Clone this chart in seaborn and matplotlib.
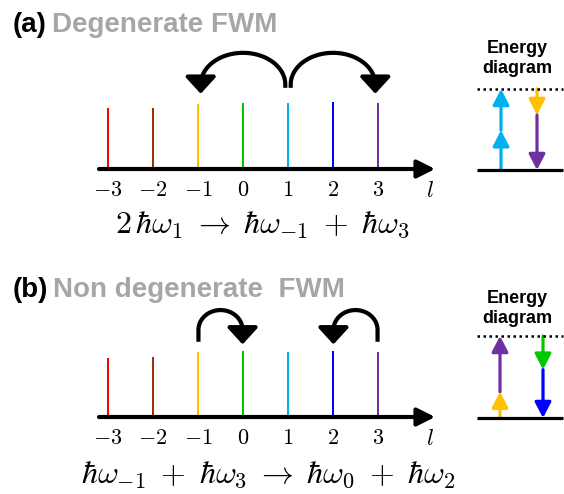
import numpy as np
import matplotlib
matplotlib.use("Agg")
import matplotlib.pyplot as plt
from matplotlib.patches import FancyArrowPatch
import seaborn as sns

# ---------------- data ----------------
modes = [-3, -2, -1, 0, 1, 2, 3]
mode_colors = ["#FF0000", "#993300", "#FFC000", "#00C800", "#00B0F0", "#0000FF", "#7030A0"]
heights_a = [0.92, 0.92, 0.98, 1.0, 1.0, 1.01, 1.0]
heights_b = [0.89, 0.91, 0.98, 1.0, 0.98, 1.0, 0.98]
tick_labels = ["$-3$", "$-2$", "$-1$", "$0$", "$1$", "$2$", "$3$"]
axis_label = "$l$"

panel_tags = ["(a)", "(b)"]
panel_titles = ["Degenerate FWM", "Non degenerate  FWM"]
equations = [r"$2\,\hbar\omega_1 \;\rightarrow\; \hbar\omega_{-1} \;+\; \hbar\omega_3$",
             r"$\hbar\omega_{-1} \;+\; \hbar\omega_3 \;\rightarrow\; \hbar\omega_0 \;+\; \hbar\omega_2$"]

# photon hops (from mode, to mode)
hops_a = [(1, -1), (1, 3)]
hops_b = [(-1, 0), (3, 2)]

# energy diagrams: (mode, start level, end level), virtual level = 1
energy_up_a = [(1, 0.0, 0.49), (1, 0.49, 1.0)]
energy_down_a = [(-1, 1.0, 0.68), (3, 0.68, 0.0)]
energy_up_b = [(-1, 0.0, 0.32), (3, 0.32, 1.0)]
energy_down_b = [(0, 1.0, 0.59), (2, 0.59, 0.0)]
energy_title = "Energy\ndiagram"

# ---------------- style ----------------
sns.set_theme(style="white")
plt.rcParams["font.family"] = ["Liberation Sans", "DejaVu Sans"]
plt.rcParams["mathtext.fontset"] = "cm"

W, H = 564, 494
fig = plt.figure(figsize=(W / 100, H / 100), dpi=100)
color_of = dict(zip(modes, mode_colors))


def make_axes(left, right, top, bottom, x0, xu, y0, yu):
    ax = fig.add_axes([left / W, 1 - bottom / H, (right - left) / W, (bottom - top) / H])
    lims = ((left - x0) / xu, (right - x0) / xu), ((y0 - bottom) / yu, (y0 - top) / yu)
    ax.axis("off")
    return ax, lims


def spectrum(ax, lims, heights, hops, eq, arc_start, arc_cy, arc_ry, arc_tip, rx_frac, eq_x, eq_y):
    sns.barplot(x=modes, y=heights, hue=modes, palette=color_of, native_scale=True,
                width=0.065, linewidth=0, saturation=1, legend=False, ax=ax)
    ax.set_xlim(lims[0])
    ax.set_ylim(lims[1])
    ax.axis("off")
    # axis arrow
    ax.add_patch(FancyArrowPatch((-3.2, 0), (4.27, 0),
                                 arrowstyle="-|>,head_length=0.54,head_width=0.27",
                                 mutation_scale=20, lw=3, color="black",
                                 shrinkA=0, shrinkB=0, zorder=5))
    for m, lab in zip(modes, tick_labels):
        ax.text(m, -0.32, lab, ha="center", va="center", fontsize=16, color="black")
    ax.text(4.16, -0.32, axis_label, ha="center", va="center", fontsize=16.5, color="black")
    ax.text(eq_x, eq_y, eq, ha="center", va="baseline", fontsize=23, color="black")
    # hop arcs
    for a, b in hops:
        cx = (a + b) / 2
        rx = rx_frac * abs(b - a)
        s = np.sign(b - a)
        ang = np.linspace(np.pi if s > 0 else 0, 0 if s > 0 else np.pi, 80)
        xs = np.concatenate([[cx - s * rx], cx + rx * np.cos(ang)])
        ys = np.concatenate([[arc_start], arc_cy + arc_ry * np.sin(ang)])
        ax.plot(xs, ys, color="black", lw=3, solid_capstyle="butt",
                solid_joinstyle="round", zorder=6)
        ax.add_patch(FancyArrowPatch((xs[-1], arc_cy + 0.01), (xs[-1], arc_tip),
                                     arrowstyle="-|>,head_length=0.6,head_width=0.55",
                                     mutation_scale=17, lw=3, color="black",
                                     shrinkA=0, shrinkB=0, zorder=6))


ax_a, lims_a = make_axes(0, 470, 40, 255, 243, 45, 169, 66)
spectrum(ax_a, lims_a, heights_a, hops_a, equations[0], 1.23, 1.28, 0.48, 1.14, 0.47, 0.42, -0.97)

ax_b, lims_b = make_axes(0, 470, 300, 494, 243, 45, 417, 66)
spectrum(ax_b, lims_b, heights_b, hops_b, equations[1], 1.14, 1.32, 0.30, 1.10, 0.49, 0.56, -1.0)


def energy(top_px, ground_px, unit_px, col_px, ups, downs, text_y):
    ax, lims = make_axes(465, 564, top_px, ground_px + 15, 0, 1, ground_px, unit_px)
    ax.set_xlim(465, 564)
    ax.set_ylim(lims[1])
    ax.hlines(0, 477, 563, color="black", lw=2.3)
    ax.hlines(1, 477, 563, color="black", lw=1.8, linestyles=[(0, (1, 1.4))])
    for col, seq in zip(col_px, (ups, downs)):
        for m, y0, y1 in seq:
            ax.add_patch(FancyArrowPatch((col, y0), (col, y1),
                                         arrowstyle="-|>,head_length=0.5,head_width=0.26",
                                         mutation_scale=19, lw=2.3, color=color_of[m],
                                         shrinkA=0, shrinkB=0))
    fig.text(517 / W, 1 - text_y / H, energy_title, ha="center", va="center",
             fontsize=13, fontweight="bold", linespacing=1.2, color="black")


energy(30, 170, 81, (501, 537), energy_up_a, energy_down_a, 58.5)
energy(280, 418, 82, (500, 543), energy_up_b, energy_down_b, 308.5)

# titles
renderer = fig.canvas.get_renderer()
for tag, title, base in zip(panel_tags, panel_titles, (32, 297)):
    t = fig.text(13 / W, 1 - base / H, tag, ha="left", va="baseline",
                 fontsize=20, fontweight="bold", color="black")
    bb = t.get_window_extent(renderer=renderer)
    fig.text((bb.x1 + 5) / W, 1 - base / H, title, ha="left", va="baseline",
             fontsize=20, fontweight="bold", color="#A6A6A6")

fig.savefig("out.png", dpi=100)
